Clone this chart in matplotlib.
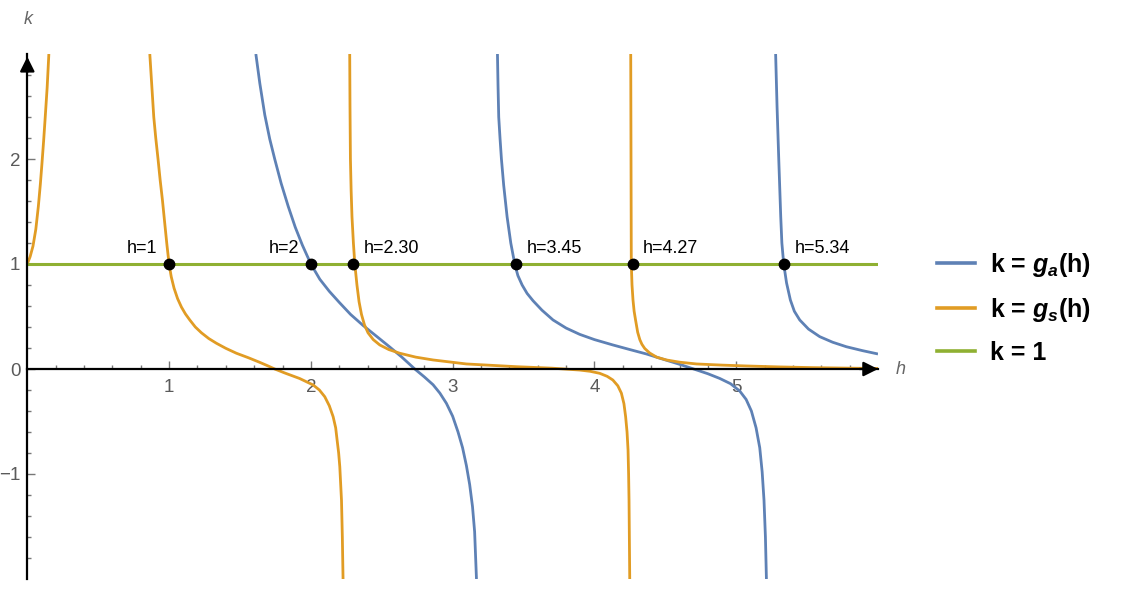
import matplotlib.pyplot as plt

plt.rcParams['font.family'] = 'Liberation Sans'
plt.rcParams['mathtext.fontset'] = 'custom'
plt.rcParams['mathtext.rm'] = 'Liberation Sans:bold'
plt.rcParams['mathtext.it'] = 'Liberation Sans:italic:bold'

# g_s(h) branches
gs_h1 = [0.0, 0.02, 0.04, 0.06, 0.078, 0.092, 0.103, 0.115, 0.125, 0.14, 0.152]
gs_k1 = [1.0, 1.07, 1.17, 1.33, 1.55, 1.76, 1.95, 2.17, 2.37, 2.68, 3.0]
gs_h2 = [0.864, 0.878, 0.892, 0.906, 0.922, 0.937, 0.953, 0.97, 0.985, 1.0,
         1.015, 1.035, 1.06, 1.087, 1.115, 1.146, 1.185, 1.228, 1.28, 1.334,
         1.4, 1.475, 1.56, 1.64, 1.70, 1.745, 1.82, 1.92, 2.016, 2.06,
         2.098, 2.13, 2.157, 2.175, 2.185, 2.196, 2.204, 2.216, 2.222, 2.227]
gs_k2 = [3.0, 2.7, 2.4, 2.2, 2.0, 1.8, 1.61, 1.38, 1.18, 1.0,
         0.88, 0.77, 0.67, 0.59, 0.525, 0.467, 0.4, 0.345, 0.29, 0.245,
         0.197, 0.15, 0.107, 0.063, 0.028, 0.0, -0.04, -0.09, -0.152, -0.2,
         -0.264, -0.35, -0.454, -0.56, -0.676, -0.8, -0.93, -1.25, -1.6, -2.0]
gs_h3 = [2.274, 2.276, 2.279, 2.284, 2.29, 2.3, 2.31, 2.325, 2.34, 2.357,
         2.378, 2.403, 2.44, 2.486, 2.55, 2.627, 2.74, 2.862, 3.097, 3.45,
         3.7, 3.896, 3.97, 4.037, 4.09, 4.13, 4.165, 4.19, 4.208, 4.22,
         4.23, 4.237, 4.241, 4.244, 4.249]
gs_k3 = [3.0, 2.5, 2.0, 1.7, 1.45, 1.2, 1.0, 0.8, 0.64, 0.52,
         0.42, 0.345, 0.28, 0.229, 0.185, 0.15, 0.113, 0.086, 0.048, 0.022,
         0.008, -0.01, -0.022, -0.041, -0.07, -0.105, -0.16, -0.23, -0.33, -0.454,
         -0.6, -0.77, -1.0, -1.25, -2.0]
gs_h4 = [4.256, 4.258, 4.26, 4.265, 4.272, 4.28, 4.29, 4.305, 4.32, 4.335,
         4.355, 4.39, 4.44, 4.508, 4.6, 4.72, 4.9, 5.07, 5.3, 5.54, 5.8, 6.0]
gs_k4 = [3.0, 2.0, 1.0, 0.8, 0.657, 0.55, 0.467, 0.35, 0.28, 0.235,
         0.195, 0.152, 0.112, 0.086, 0.065, 0.048, 0.037, 0.029, 0.02, 0.013, 0.008, 0.005]

# g_a(h) branches
ga_h1 = [1.612, 1.64, 1.675, 1.71, 1.745, 1.79, 1.84, 1.89, 1.94, 2.0,
         2.063, 2.13, 2.2, 2.28, 2.368, 2.46, 2.556, 2.64, 2.733, 2.8,
         2.862, 2.91, 2.956, 3.0, 3.038, 3.07, 3.097, 3.12, 3.14, 3.155,
         3.168]
ga_k1 = [3.0, 2.72, 2.42, 2.19, 2.0, 1.77, 1.55, 1.35, 1.18, 1.0,
         0.855, 0.74, 0.635, 0.52, 0.415, 0.315, 0.21, 0.115, 0.0, -0.075,
         -0.15, -0.23, -0.327, -0.45, -0.6, -0.75, -0.92, -1.1, -1.31, -1.55,
         -2.0]
ga_h2 = [3.316, 3.32, 3.325, 3.334, 3.344, 3.36, 3.384, 3.41, 3.438, 3.46,
         3.49, 3.525, 3.567, 3.63, 3.708, 3.8, 3.896, 4.0, 4.13, 4.25,
         4.367, 4.48, 4.6, 4.7, 4.8, 4.884, 4.96, 5.025, 5.07, 5.107,
         5.14, 5.166, 5.183, 5.196, 5.206, 5.213]
ga_k2 = [3.0, 2.7, 2.4, 2.2, 2.0, 1.75, 1.45, 1.2, 1.0, 0.89,
         0.8, 0.72, 0.65, 0.56, 0.467, 0.39, 0.33, 0.28, 0.229, 0.185,
         0.143, 0.095, 0.045, 0.0, -0.045, -0.09, -0.14, -0.21, -0.29, -0.40,
         -0.56, -0.75, -0.98, -1.25, -1.6, -2.0]
ga_h3 = [5.278, 5.288, 5.30, 5.314, 5.322, 5.335, 5.355, 5.382, 5.41, 5.448,
         5.51, 5.589, 5.68, 5.777, 5.89, 6.0]
ga_k3 = [3.0, 2.5, 2.0, 1.45, 1.2, 1.0, 0.82, 0.657, 0.55, 0.467,
         0.38, 0.308, 0.255, 0.212, 0.175, 0.143]

# intersections with k = 1
pt_h = [1, 2, 2.30, 3.45, 4.27, 5.34]
pt_labels = ['h=1', 'h=2', 'h=2.30', 'h=3.45', 'h=4.27', 'h=5.34']
pt_left = [True, True, False, False, False, False]

blue = '#5E81B5'
orange = '#E19C24'
green = '#8FB032'

fig = plt.figure(figsize=(11.42, 6.16), dpi=100)
ax = fig.add_axes([27.3 / 1142, 1 - 579 / 616, (878 - 27.3) / 1142, (579 - 54) / 616])

lw = 2.0
for h, k in [(ga_h1, ga_k1), (ga_h2, ga_k2), (ga_h3, ga_k3)]:
    ax.plot(h, k, color=blue, lw=lw, solid_capstyle='butt', solid_joinstyle='round')
for h, k in [(gs_h1, gs_k1), (gs_h2, gs_k2), (gs_h3, gs_k3), (gs_h4, gs_k4)]:
    ax.plot(h, k, color=orange, lw=lw, solid_capstyle='butt', solid_joinstyle='round')
ax.plot([0, 6], [1, 1], color=green, lw=2.2)

ax.plot(pt_h, [1] * len(pt_h), 'o', color='black', ms=7.5, zorder=5)
for h, lab, left in zip(pt_h, pt_labels, pt_left):
    if left:
        ax.annotate(lab, (h, 1), xytext=(-12, 11), textcoords='offset pixels',
                    ha='right', va='baseline', fontsize=13)
    else:
        ax.annotate(lab, (h, 1), xytext=(10, 11), textcoords='offset pixels',
                    ha='left', va='baseline', fontsize=13)

ax.set_xlim(0, 6)
ax.set_ylim(-2, 3)
for s in ['top', 'right']:
    ax.spines[s].set_visible(False)
ax.spines['left'].set_position(('data', 0))
ax.spines['bottom'].set_position(('data', 0))
ax.spines['left'].set_linewidth(1.6)
ax.spines['bottom'].set_linewidth(1.6)

ax.set_xticks([1, 2, 3, 4, 5])
ax.set_xticklabels(['1', '2', '3', '4', '5'])
ax.set_xticks([i * 0.2 for i in range(1, 30) if i % 5], minor=True)
ax.set_yticks([-1, 0, 1, 2])
ax.set_yticklabels(['\u22121', '0', '1', '2'])
ax.set_yticks([-2 + i * 0.2 for i in range(1, 25) if i % 5], minor=True)
ax.tick_params(which='both', direction='in', color='#777777', width=1,
               labelsize=13.5, labelcolor='#5a5a5a')
ax.tick_params(which='major', length=6)
ax.tick_params(which='minor', length=3)
ax.tick_params(axis='x', pad=7)
ax.tick_params(axis='y', pad=5)

# arrow heads
ax.annotate('', xy=(6.02, 0), xytext=(5.85, 0),
            arrowprops=dict(arrowstyle='-|>', color='black', lw=1.6, mutation_scale=22),
            annotation_clip=False)
ax.annotate('', xy=(0, 3.0), xytext=(0, 2.8),
            arrowprops=dict(arrowstyle='-|>', color='black', lw=1.6, mutation_scale=22),
            annotation_clip=False)

fig.text(28 / 1142, 1 - 20 / 616, 'k', style='italic', color='#666666', fontsize=13,
         ha='center', va='center')
fig.text(901 / 1142, 1 - 369 / 616, 'h', style='italic', color='#666666', fontsize=13,
         ha='center', va='center')

handles = [plt.Line2D([], [], color=c, lw=2.6) for c in [blue, orange, green]]
labels = ['k = $g_a$(h)', 'k = $g_s$(h)', 'k = 1']
fig.legend(handles, labels, loc='upper left', bbox_to_anchor=(937 / 1142, 1 - 251 / 616),
           frameon=False, borderpad=0, borderaxespad=0, handlelength=1.5,
           handletextpad=0.6, labelspacing=0.68,
           prop=dict(family='Liberation Sans', weight='bold', size=18))

fig.savefig('out.png', dpi=100)
